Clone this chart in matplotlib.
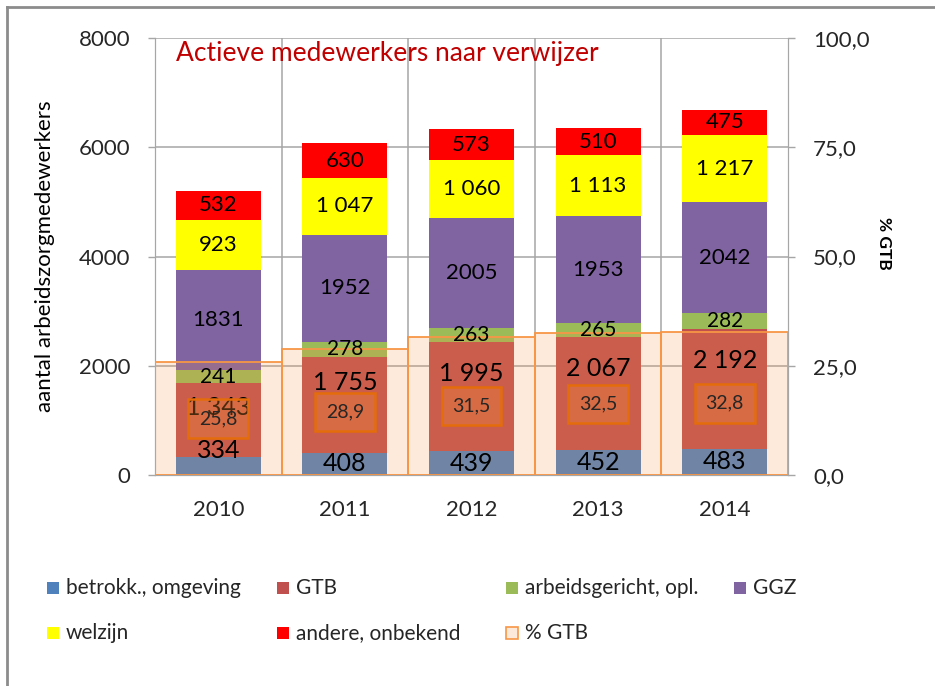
import numpy as np
import matplotlib.pyplot as plt
from matplotlib.patches import Rectangle
from matplotlib.lines import Line2D

plt.rcParams['font.family'] = ['Lato', 'DejaVu Sans']

# data
years = ['2010', '2011', '2012', '2013', '2014']
betrokken = [334, 408, 439, 452, 483]
gtb = [1343, 1755, 1995, 2067, 2192]
arbeid = [241, 278, 263, 265, 282]
ggz = [1831, 1952, 2005, 1953, 2042]
welzijn = [923, 1047, 1060, 1113, 1217]
andere = [532, 630, 573, 510, 475]
pct_gtb = [25.8, 28.9, 31.5, 32.5, 32.8]

series_names = ['betrokk., omgeving', 'GTB', 'arbeidsgericht, opl.', 'GGZ',
                'welzijn', 'andere, onbekend']
series = [betrokken, gtb, arbeid, ggz, welzijn, andere]
colors = ['#4F81BD', '#C0504D', '#9BBB59', '#8064A2', '#FFFF00', '#FF0000']
# purple labels are shown without thousands separator in the original
use_space = [True, True, True, False, True, True]
label_size = [18, 18, 15, 16, 16, 16]
# labels that were moved by hand in the original (data units above centre)
nudge = {(0, 0): 290, (1, 0): 225, (1, 1): 400, (1, 2): 430, (1, 3): 470, (1, 4): 525}

W, H = 935, 686
fig = plt.figure(figsize=(W / 100, H / 100), dpi=100)
ax = fig.add_axes([155 / W, 1 - 475 / H, (788 - 155) / W, (475 - 38) / H])
ax2 = ax.twinx()

x = np.arange(len(years))
bottom = np.zeros(len(years))
for vals, c in zip(series, colors):
    ax.bar(x, vals, width=0.67, bottom=bottom, color=c, zorder=2)
    bottom += np.array(vals)

ax.set_xlim(-0.5, len(years) - 0.5)
ax.set_ylim(0, 8000)
ax.set_yticks(np.arange(0, 8001, 2000))
ax.set_xticks(x)
ax.set_xticklabels(years)
ax.grid(False)
for yv in range(2000, 8001, 2000):
    ax.axhline(yv, color='#A6A6A6', lw=1.1, zorder=1)
for xv in np.arange(0.5, len(years) - 0.5, 1):
    ax.axvline(xv, color='#A6A6A6', lw=1.1, zorder=1)

# % GTB columns on the secondary axis, drawn over the stacks
ax2.bar(x, pct_gtb, width=1.0, facecolor=(0.969, 0.588, 0.275, 0.2),
        edgecolor='#F79646', linewidth=1.3, zorder=3)
ax2.set_ylim(0, 100)
ax2.set_yticks(np.arange(0, 101, 25))
ax2.set_yticklabels([f'{v:.1f}'.replace('.', ',') for v in np.arange(0, 101, 25)])

for a in (ax, ax2):
    for s in a.spines.values():
        s.set_color('#A6A6A6')
    a.spines['top'].set_visible(False)
ax.tick_params(axis='y', length=5, width=1, color='#A6A6A6', pad=13,
               labelsize=16, labelcolor='#262626')
ax2.tick_params(axis='y', length=5, width=1, color='#A6A6A6', pad=13,
                labelsize=16, labelcolor='#262626')
ax.tick_params(axis='x', length=0, pad=18, labelsize=16, labelcolor='#262626')

ax.set_ylabel('aantal arbeidszorgmedewerkers', fontsize=16, color='black')
ax.yaxis.set_label_coords(-(155 - 55) / (788 - 155), 0.5)
ax2.set_ylabel('% GTB', fontsize=12.5, fontweight='bold', rotation=-90, color='black')
ax2.yaxis.set_label_coords(1 + (892 - 788) / (788 - 155), 0.53)


def fmt(v, space):
    if space and v >= 1000:
        return f'{v:,}'.replace(',', ' ')
    return str(v)


# segment labels
bottom = np.zeros(len(years))
for si, vals in enumerate(series):
    for i, v in enumerate(vals):
        yv = bottom[i] + v / 2 + nudge.get((si, i), 0)
        ax2.text(x[i], yv, fmt(v, use_space[si]), transform=ax.transData,
                 ha='center', va='center', fontsize=label_size[si], color='black',
                 zorder=5)
    bottom += np.array(vals)

for i, p in enumerate(pct_gtb):
    ax2.text(x[i], p / 2, f'{p:.1f}'.replace('.', ','), ha='center', va='center',
             fontsize=14, color='#262626', zorder=6,
             bbox=dict(boxstyle='square,pad=0.55', facecolor=(0.969, 0.55, 0.2, 0.3),
                       edgecolor='#E46C0A', linewidth=1.8))

ax2.text(0.033, 0.965, 'Actieve medewerkers naar verwijzer', transform=ax.transAxes,
         ha='left', va='center', fontsize=19, color='#C00000', zorder=7)

# legend, drawn by hand to match the two-row layout
leg_items = list(zip(series_names, colors)) + [('% GTB', None)]
col_x = [47, 277, 506, 734]
row_y = [588, 633]
for k, (name, c) in enumerate(leg_items):
    r, col = divmod(k, 4)
    px, py = col_x[col], row_y[r]
    if c is None:
        rect = Rectangle((px / W, 1 - (py + 6) / H), 12 / W, 12 / H,
                         transform=fig.transFigure, facecolor='#FDE9D9',
                         edgecolor='#F79646', linewidth=1.2)
    else:
        rect = Rectangle((px / W, 1 - (py + 6) / H), 12 / W, 12 / H,
                         transform=fig.transFigure, facecolor=c, edgecolor='none')
    fig.patches.append(rect)
    fig.text((px + 19) / W, 1 - py / H, name, ha='left', va='center',
             fontsize=15, color='#262626')

# chart frame
fig.lines.append(Line2D([7 / W, 7 / W], [0, 1 - 7 / H], transform=fig.transFigure,
                        color='#8C8C8C', lw=2))
fig.lines.append(Line2D([7 / W, 1], [1 - 7 / H, 1 - 7 / H], transform=fig.transFigure,
                        color='#8C8C8C', lw=2))

fig.savefig('out.png', dpi=100)
